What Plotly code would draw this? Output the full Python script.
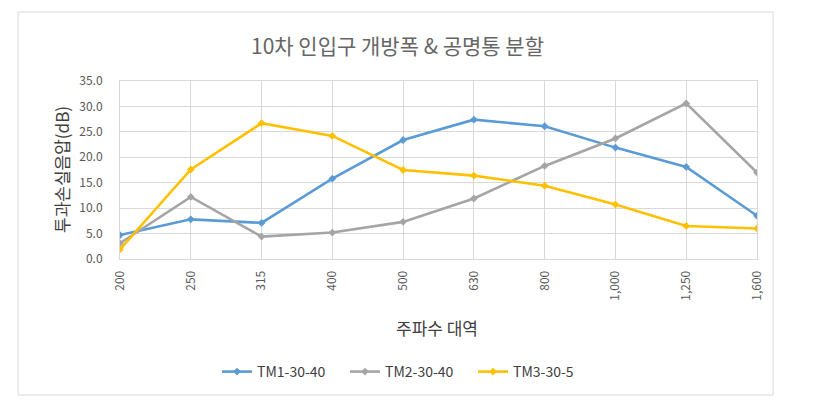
import plotly.graph_objects as go

categories = ["200", "250", "315", "400", "500", "630", "800", "1,000", "1,250", "1,600"]
tm1 = [4.7, 7.8, 7.1, 15.8, 23.4, 27.4, 26.1, 21.9, 18.1, 8.5]
tm2 = [3.1, 12.2, 4.4, 5.2, 7.3, 11.9, 18.3, 23.7, 30.6, 17.0]
tm3 = [1.9, 17.6, 26.7, 24.2, 17.5, 16.4, 14.4, 10.7, 6.5, 6.0]
series_names = ["TM1-30-40", "TM2-30-40", "TM3-30-5"]
colors = ["#5b9bd5", "#a5a5a5", "#ffc000"]

FONT = "Noto Sans CJK KR, Malgun Gothic, sans-serif"

fig = go.Figure()
for name, vals, c in zip(series_names, [tm1, tm2, tm3], colors):
    fig.add_trace(go.Scatter(
        x=categories, y=vals, name=name, mode="lines+markers",
        line=dict(color=c, width=2.6),
        marker=dict(color=c, size=6, symbol="diamond"),
    ))

L, R, T, B = 120, 757, 81, 259
W, H = 816, 401

def px_x(p):
    return (p - L) / (R - L)

def px_y(p):
    return (B - p) / (B - T)

fig.update_layout(
    width=W, height=H,
    margin=dict(l=L, r=W - R, t=T, b=H - B),
    paper_bgcolor="white", plot_bgcolor="white",
    font=dict(family=FONT, color="#595959", size=12),
    showlegend=True,
    legend=dict(orientation="h", x=px_x(217), y=px_y(372), xanchor="left", yanchor="middle",
                font=dict(size=14, color="#404040"), itemwidth=30, entrywidth=83,
                bgcolor="rgba(0,0,0,0)"),
    xaxis=dict(type="category", range=[0, 9], tickangle=-90, showgrid=True,
               gridcolor="#d9d9d9", gridwidth=1, showline=True, linecolor="#d9d9d9",
               mirror=True, ticks="", ticklabelstandoff=6,
               tickfont=dict(size=12, color="#595959"), zeroline=False),
    yaxis=dict(range=[0, 35], dtick=5, tickformat=".1f", showgrid=True,
               gridcolor="#d9d9d9", gridwidth=1, showline=True, linecolor="#d9d9d9",
               mirror=True, ticks="", ticklabelstandoff=14,
               tickfont=dict(size=12, color="#595959"), zeroline=False),
    annotations=[
        dict(text="10차 인입구 개방폭 & 공명통 분할", xref="paper", yref="paper",
             x=px_x(397), y=px_y(45), xanchor="center", yanchor="middle", showarrow=False,
             font=dict(size=21, color="#666666", family=FONT)),
        dict(text="주파수 대역", xref="paper", yref="paper",
             x=px_x(437), y=px_y(327), xanchor="center", yanchor="middle", showarrow=False,
             font=dict(size=17, color="#404040", family=FONT)),
        dict(text="투과손실음압(dB)", xref="paper", yref="paper", textangle=-90,
             x=px_x(61), y=px_y(170), xanchor="center", yanchor="middle", showarrow=False,
             font=dict(size=17, color="#404040", family=FONT)),
    ],
    shapes=[
        dict(type="rect", xref="paper", yref="paper",
             x0=px_x(18), x1=px_x(773), y0=px_y(395), y1=px_y(12),
             line=dict(color="#d9d9d9", width=1), layer="below"),
    ],
)

fig.write_html("out.html")
